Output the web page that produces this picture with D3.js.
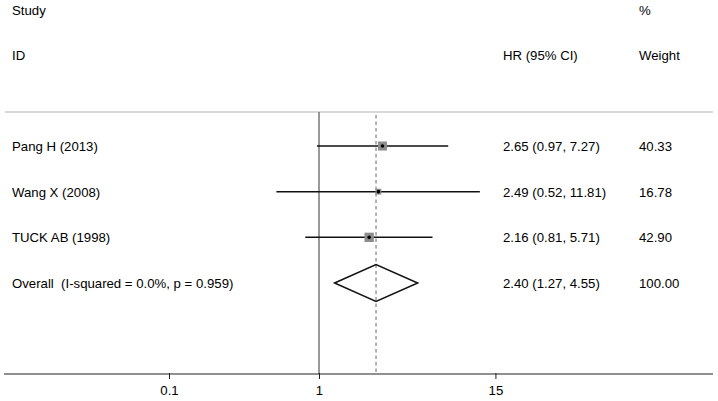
<!DOCTYPE html>
<html><head><meta charset="utf-8">
<script src="https://cdn.jsdelivr.net/npm/d3@7"></script>
<style>
body{margin:0;background:#fff;}
svg{display:block;font-family:"Liberation Sans",Arial,sans-serif;}
text{white-space:pre;}
</style></head>
<body>
<svg id="chart" width="718" height="401"></svg>
<script>
const studies = ["Pang H (2013)", "Wang X (2008)", "TUCK AB (1998)"];
const hr = [2.65, 2.49, 2.16];
const lower = [0.97, 0.52, 0.81];
const upper = [7.27, 11.81, 5.71];
const weights = [40.33, 16.78, 42.90];
const overallLabel = "Overall  (I-squared = 0.0%, p = 0.959)";
const overallHR = 2.40, overallLower = 1.27, overallUpper = 4.55, overallWeight = 100.00;
const tickValues = [0.1, 1, 15];
const tickLabels = ["0.1", "1", "15"];

const svg = d3.select("#chart");
const x = d3.scaleLog().domain([0.1, 15]).range([169, 169 + 150 * Math.log10(150)]);
const rowLabels = studies.concat([overallLabel]);
const y = d3.scalePoint().domain(d3.range(rowLabels.length)).range([146, 283]);
const fmt = d3.format(".2f");
const fs = 13.2;

// headers
const hdr = svg.append("g").attr("font-size", fs).attr("fill", "#000");
hdr.append("text").attr("x", 12).attr("y", 15).text("Study");
hdr.append("text").attr("x", 12).attr("y", 60).text("ID");
hdr.append("text").attr("x", 503).attr("y", 60).text("HR (95% CI)");
hdr.append("text").attr("x", 639).attr("y", 15).text("%");
hdr.append("text").attr("x", 639).attr("y", 60).text("Weight");

// top separator
svg.append("line").attr("x1", 5).attr("x2", 713).attr("y1", 112).attr("y2", 112)
  .attr("stroke", "#b4b4b4").attr("stroke-width", 1.2);

// null line at 1
svg.append("line").attr("x1", x(1)).attr("x2", x(1)).attr("y1", 112).attr("y2", 374)
  .attr("stroke", "#6e6e6e").attr("stroke-width", 1.4);

// overall dashed line
svg.append("line").attr("x1", x(overallHR)).attr("x2", x(overallHR)).attr("y1", 115).attr("y2", 374)
  .attr("stroke", "#8a8a8a").attr("stroke-width", 1.3).attr("stroke-dasharray", "3.5,3");

// axis
const axis = d3.axisBottom(x).tickValues(tickValues).tickFormat((d, i) => tickLabels[i]).tickSize(5).tickSizeOuter(0);
const ag = svg.append("g").attr("transform", "translate(0,374)").call(axis);
ag.select(".domain").remove();
ag.selectAll(".tick line").attr("stroke", "#222").attr("y1", -1).attr("y2", 5);
ag.selectAll(".tick text").attr("font-size", fs).attr("font-family", "Liberation Sans, Arial, sans-serif")
  .attr("fill", "#000").attr("dy", 0).attr("y", 21);
svg.append("line").attr("x1", 4).attr("x2", 713).attr("y1", 374).attr("y2", 374)
  .attr("stroke", "#222").attr("stroke-width", 1.2);

// study rows
const k = 1.42;
studies.forEach((s, i) => {
  const cy = y(i);
  svg.append("line").attr("x1", x(lower[i])).attr("x2", x(upper[i])).attr("y1", cy).attr("y2", cy)
    .attr("stroke", "#111").attr("stroke-width", 1.5);
  const side = k * Math.sqrt(weights[i]);
  svg.append("rect").attr("x", x(hr[i]) - side / 2).attr("y", cy - side / 2)
    .attr("width", side).attr("height", side).attr("fill", "#8c8c8c");
  svg.append("circle").attr("cx", x(hr[i])).attr("cy", cy).attr("r", 1.8).attr("fill", "#000");
});

// diamond
const oy = y(3);
svg.append("path")
  .attr("d", `M${x(overallLower)},${oy}L${x(overallHR)},${oy - 18.5}L${x(overallUpper)},${oy}L${x(overallHR)},${oy + 18.5}Z`)
  .attr("fill", "none").attr("stroke", "#111").attr("stroke-width", 1.5);

// row text
const tg = svg.append("g").attr("font-size", fs).attr("fill", "#000");
rowLabels.forEach((lab, i) => {
  const cy = y(i) + 5;
  tg.append("text").attr("x", 12).attr("y", cy).attr("xml:space", "preserve").text(lab);
  const h = i < 3 ? hr[i] : overallHR, lo = i < 3 ? lower[i] : overallLower, hi = i < 3 ? upper[i] : overallUpper;
  const w = i < 3 ? weights[i] : overallWeight;
  tg.append("text").attr("x", 503).attr("y", cy).text(`${fmt(h)} (${fmt(lo)}, ${fmt(hi)})`);
  tg.append("text").attr("x", 639).attr("y", cy).text(fmt(w));
});
</script>
</body></html>
